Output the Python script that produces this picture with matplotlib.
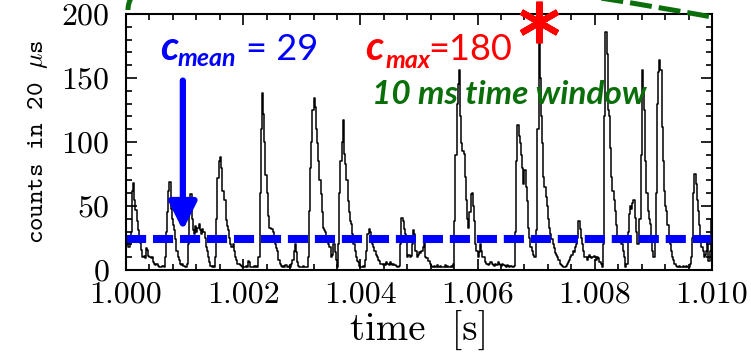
import numpy as np
import matplotlib.pyplot as plt
from matplotlib.path import Path
from matplotlib.patches import PathPatch

plt.rcParams['font.family'] = 'cmr10'
plt.rcParams['mathtext.fontset'] = 'cm'
plt.rcParams['axes.formatter.use_mathtext'] = True

# counts per 20 us bin (500 bins = 10 ms)
counts = [
    20, 21, 18, 22, 30, 62, 68, 55, 47, 38,
    31, 25, 21, 16, 10, 11, 9, 17, 16, 11,
    10, 9, 10, 6, 5, 4, 5, 3, 2, 2,
    2, 3, 2, 10, 30, 45, 62, 69, 48, 40,
    35, 31, 24, 15, 10, 8, 5, 4, 5, 3,
    2, 2, 5, 20, 45, 59, 40, 31, 28, 34,
    30, 33, 36, 31, 28, 32, 30, 25, 18, 15,
    10, 6, 3, 2, 3, 2, 10, 40, 72, 85,
    88, 80, 62, 62, 55, 39, 34, 31, 25, 20,
    18, 20, 15, 10, 8, 5, 5, 4, 3, 2,
    2, 2, 3, 2, 7, 6, 2, 2, 2, 3,
    2, 3, 2, 10, 60, 110, 138, 122, 100, 74,
    60, 42, 33, 33, 32, 30, 26, 20, 17, 15,
    8, 5, 3, 2, 3, 2, 4, 2, 2, 3,
    2, 5, 8, 15, 20, 14, 6, 3, 2, 2,
    2, 3, 2, 2, 2, 10, 46, 80, 100, 125,
    134, 127, 110, 99, 85, 70, 59, 45, 33, 31,
    30, 22, 20, 18, 18, 10, 12, 20, 14, 8,
    2, 20, 60, 85, 100, 117, 91, 83, 70, 54,
    45, 38, 36, 28, 20, 15, 10, 7, 6, 3,
    2, 2, 3, 2, 8, 15, 28, 32, 30, 24,
    20, 18, 15, 12, 10, 8, 7, 5, 5, 4,
    5, 4, 6, 5, 4, 6, 5, 4, 5, 4,
    3, 2, 2, 3, 20, 41, 38, 32, 28, 25,
    10, 12, 10, 11, 20, 31, 28, 15, 10, 12,
    14, 13, 15, 18, 23, 10, 9, 9, 7, 5,
    3, 2, 2, 3, 2, 4, 2, 2, 3, 2,
    2, 2, 4, 2, 3, 2, 2, 3, 2, 5,
    38, 90, 130, 145, 156, 120, 99, 93, 91, 73,
    55, 40, 33, 45, 59, 60, 50, 38, 20, 15,
    10, 14, 20, 15, 10, 10, 6, 5, 5, 4,
    5, 6, 5, 4, 3, 5, 4, 6, 5, 4,
    3, 5, 4, 3, 2, 4, 3, 2, 3, 2,
    2, 3, 30, 85, 113, 105, 99, 90, 80, 67,
    78, 65, 54, 33, 25, 18, 15, 12, 10, 10,
    31, 110, 190, 150, 120, 99, 73, 65, 57, 50,
    40, 33, 28, 24, 20, 17, 13, 12, 10, 8,
    5, 4, 3, 2, 2, 3, 5, 6, 8, 10,
    12, 15, 14, 18, 20, 25, 38, 32, 25, 20,
    15, 10, 10, 8, 10, 12, 10, 9, 10, 11,
    10, 8, 10, 9, 6, 5, 2, 20, 120, 186,
    169, 125, 120, 95, 73, 62, 55, 46, 35, 25,
    25, 22, 20, 20, 15, 10, 2, 5, 30, 44,
    50, 48, 52, 55, 41, 30, 20, 20, 40, 90,
    156, 140, 125, 85, 60, 46, 40, 36, 25, 15,
    10, 23, 60, 130, 155, 164, 156, 112, 85, 62,
    50, 46, 35, 25, 20, 15, 10, 8, 5, 3,
    2, 2, 3, 2, 2, 3, 2, 2, 3, 2,
    2, 5, 10, 25, 60, 75, 67, 55, 46, 35,
    23, 18, 15, 10, 12, 15, 20, 7, 15, 40,
]
t0 = 1.000
bin_width = 20e-6
mean_line = 24
x_ticks = [1.000, 1.002, 1.004, 1.006, 1.008, 1.010]
y_ticks = [0, 50, 100, 150, 200]

counts = np.array(counts)
t = t0 + np.arange(len(counts)) * bin_width + bin_width / 2
imax = np.argmax(counts)

W, H = 751, 354
fig = plt.figure(figsize=(W / 100, H / 100), dpi=100)
ax = fig.add_axes([126 / W, 1 - 270 / H, 586 / W, 256 / H])

ax.step(t, counts, where='mid', color='k', lw=1.1)
ax.axhline(mean_line, color='blue', lw=5.8, dashes=(2.5, 0.85))
ax.plot(t[imax], counts[imax] + 4, marker=(6, 2, 0), color='red',
        ms=30, mew=4.5, clip_on=False, zorder=5)

ax.set_xlim(1.0, 1.01)
ax.set_ylim(0, 200)
ax.set_xticks(x_ticks)
ax.set_xticklabels(['%.3f' % v for v in x_ticks])
ax.set_yticks(y_ticks)
ax.set_xticks(np.arange(1.0, 1.01001, 0.0004), minor=True)
ax.set_yticks(np.arange(0, 201, 10), minor=True)
ax.tick_params(which='both', direction='in', top=True, right=True, width=1.2,
               labelsize=23)
ax.tick_params(which='major', length=8)
ax.tick_params(axis='x', which='major', pad=8)
ax.tick_params(axis='y', which='major', pad=12)
ax.tick_params(which='minor', length=4.5)
for s in ax.spines.values():
    s.set_linewidth(1.5)

ax.set_xlabel('time  [s]', fontsize=28, labelpad=2)
ax.set_ylabel(r'counts in 20 $\mu$s', fontsize=18.5, family='cmtt10', labelpad=8)

# arrow to the mean level
ax.annotate('', xy=(1.00097, 31), xytext=(1.00097, 148),
            arrowprops=dict(arrowstyle='-|>', color='blue', lw=4.5,
                            mutation_scale=42, shrinkA=0, shrinkB=0))

# green dashed curve (time window) running off the top
verts = [(128, 10), (128, -60), (400, -40), (712, 17)]
verts = [(x / W, 1 - y / H) for x, y in verts]
arc = PathPatch(Path(verts, [Path.MOVETO, Path.CURVE4, Path.CURVE4, Path.CURVE4]),
                fill=False, edgecolor='#0a6e0a', lw=3.6, linestyle=(0, (4.4, 1.4)),
                transform=fig.transFigure, clip_on=False)
fig.add_artist(arc)

def ftext(x, y, s, **kw):
    fig.text(x / W, 1 - y / H, s, va='baseline', ha='left', family='Lato', **kw)

ftext(160, 60, 'c', color='blue', fontsize=29, weight='bold', style='italic')
ftext(178, 66, 'mean', color='blue', fontsize=18, weight='bold', style='italic')
ftext(246, 60, '= 29', color='blue', fontsize=26)
ftext(365, 60, 'c', color='red', fontsize=29, weight='bold', style='italic')
ftext(386, 68, 'max', color='red', fontsize=18, weight='bold', style='italic')
ftext(428, 60, '=180', color='red', fontsize=26)
ftext(372, 104, '10 ms time window', color='#0a6e0a', fontsize=24,
      weight='bold', style='italic')

fig.savefig('out.png', dpi=100)
